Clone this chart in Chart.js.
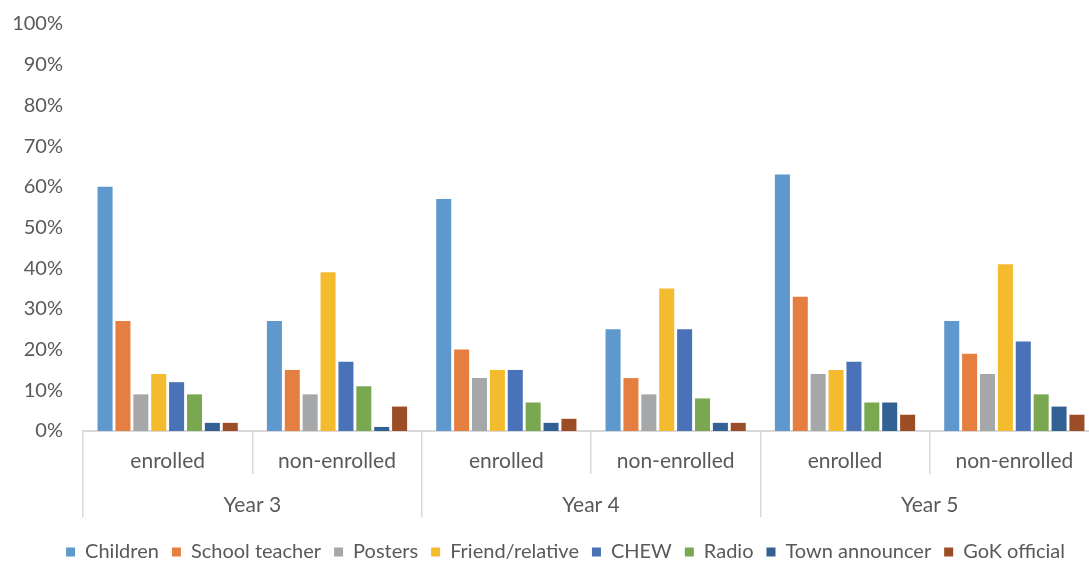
<!DOCTYPE html>
<html>
<head>
<meta charset="utf-8">
<script src="https://cdn.jsdelivr.net/npm/chart.js@4"></script>
<style>
  html, body { margin: 0; padding: 0; background: #fff; overflow: hidden; }
  #wrap { position: relative; width: 1099px; height: 572px; }
</style>
</head>
<body>
<div id="wrap"><canvas id="chart"></canvas></div>
<script>
// Sub-categories (inner axis row) and the year groups (outer axis row)
const groups = ['enrolled', 'non-enrolled', 'enrolled', 'non-enrolled', 'enrolled', 'non-enrolled'];
const years = ['Year 3', 'Year 4', 'Year 5'];
const yTicks = [0, 10, 20, 30, 40, 50, 60, 70, 80, 90, 100];

// Share of respondents (%) per information source
const children       = [60, 27, 57, 25, 63, 27];
const schoolTeacher  = [27, 15, 20, 13, 33, 19];
const posters        = [ 9,  9, 13,  9, 14, 14];
const friendRelative = [14, 39, 15, 35, 15, 41];
const chew           = [12, 17, 15, 25, 17, 22];
const radio          = [ 9, 11,  7,  8,  7,  9];
const townAnnouncer  = [ 2,  1,  2,  2,  7,  6];
const gokOfficial    = [ 2,  6,  3,  2,  4,  4];

const seriesNames  = ['Children', 'School teacher', 'Posters', 'Friend/relative', 'CHEW', 'Radio', 'Town announcer', 'GoK official'];
const seriesValues = [children, schoolTeacher, posters, friendRelative, chew, radio, townAnnouncer, gokOfficial];
const seriesColors = ['#5F98CC', '#E57F41', '#A6A7A9', '#F5BB2E', '#4A72B8', '#79A851', '#336193', '#9D4D25'];

const FONT = 'Lato, Carlito, Calibri, sans-serif';
const TEXT = '#595959';
const LINE = '#D9D9D9';

// Nudge the legend row to the right so it sits centred under the full figure width
const legendShift = {
  id: 'legendShift',
  afterLayout(chart) {
    const lg = chart.legend;
    if (lg) { lg.left += 16; lg.right += 16; }
  }
};

new Chart(document.getElementById('chart'), {
  type: 'bar',
  data: {
    labels: groups,
    datasets: seriesNames.map((name, i) => ({
      label: name,
      data: seriesValues[i],
      backgroundColor: seriesColors[i],
      borderWidth: 0,
      categoryPercentage: 0.845,
      barPercentage: 0.84,
      xAxisID: 'x',
      yAxisID: 'y'
    }))
  },
  plugins: [legendShift],
  options: {
    responsive: true,
    maintainAspectRatio: false,
    animation: false,
    layout: { padding: { top: 15, left: 0, right: 0, bottom: 0 } },
    plugins: {
      tooltip: { enabled: false },
      legend: {
        position: 'bottom',
        labels: {
          boxWidth: 9,
          boxHeight: 9,
          padding: 13,
          color: TEXT,
          font: { family: FONT, size: 20 }
        }
      }
    },
    scales: {
      y: {
        min: 0,
        max: 100,
        afterBuildTicks: s => { s.ticks = yTicks.map(v => ({ value: v })); },
        afterFit: s => { s.width = 83; },
        grid: { display: false },
        border: { display: false },
        ticks: {
          padding: 12,
          color: TEXT,
          font: { family: FONT, size: 20 },
          callback: v => v + '%'
        }
      },
      x: {
        type: 'category',
        position: 'bottom',
        weight: 1,
        offset: true,
        afterFit: s => { s.height = 43; },
        grid: { offset: true, drawOnChartArea: false, tickLength: 43, color: LINE, lineWidth: 1.5 },
        border: { display: true, color: LINE, width: 2 },
        ticks: {
          padding: -25,
          color: TEXT,
          font: { family: FONT, size: 21 },
          maxRotation: 0,
          autoSkip: false
        }
      },
      xYear: {
        type: 'category',
        position: 'bottom',
        weight: 2,
        labels: years,
        offset: true,
        afterFit: s => { s.height = 55; },
        grid: { offset: true, drawOnChartArea: false, tickLength: 43, color: LINE, lineWidth: 1.5 },
        border: { display: false },
        ticks: {
          padding: -24,
          color: TEXT,
          font: { family: FONT, size: 21 },
          maxRotation: 0,
          autoSkip: false
        }
      }
    }
  }
});
</script>
</body>
</html>
